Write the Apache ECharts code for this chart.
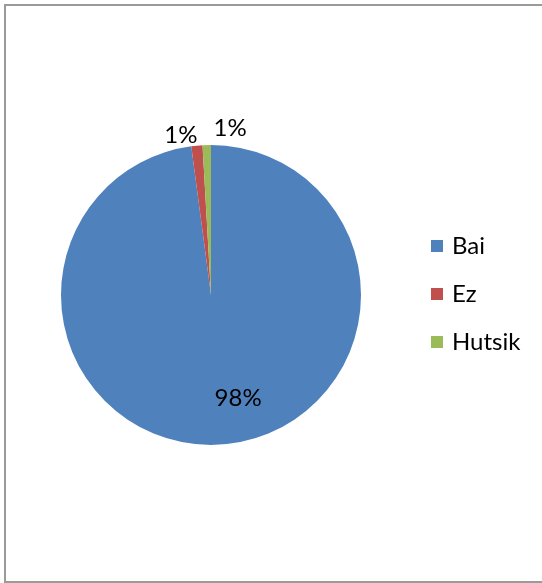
<!DOCTYPE html>
<html><head><meta charset="utf-8">
<script src="https://cdn.jsdelivr.net/npm/echarts@6/dist/echarts.min.js"></script>
<style>html,body{margin:0;padding:0;background:#fff}#c{width:542px;height:583px}</style>
</head><body><div id="c"></div>
<script>
const categories = ['Bai', 'Ez', 'Hutsik'];
const values = [97.9, 1.2, 0.9];
const colors = ['#4F81BD', '#C0504D', '#9BBB59'];

const chart = echarts.init(document.getElementById('c'), null, {renderer: 'canvas'});
const labelPos = [
  {position: 'inside', offset: [22, 25]},
  {position: 'outside', offset: [6, -6]},
  {position: 'outside', offset: [45, -13]}
];
const data = categories.map((n, i) => ({
  name: n, value: values[i],
  itemStyle: {color: colors[i]},
  label: labelPos[i]
}));
chart.setOption({
  animation: false,
  graphic: [{
    type: 'rect', shape: {x: 5, y: 5, width: 560, height: 577},
    style: {fill: 'none', stroke: '#9a9a9a', lineWidth: 2}
  }],
  legend: {
    orient: 'vertical', left: 426, top: 229,
    itemWidth: 12, itemHeight: 12, itemGap: 24, icon: 'rect',
    textStyle: {fontFamily: 'Lato', fontSize: 24, color: '#000', padding: [0, 0, 0, 4]},
    data: categories
  },
  series: [{
    type: 'pie', center: [211, 295], radius: 150, startAngle: 90, clockwise: true,
    avoidLabelOverlap: false,
    labelLayout: {hideOverlap: false},
    labelLine: {show: false, length: 4, length2: 0},
    label: {
      fontFamily: 'Lato', fontSize: 24, color: '#000',
      formatter: p => Math.round(p.percent) + '%'
    },
    emphasis: {disabled: true},
    itemStyle: {borderWidth: 0},
    data: data
  }]
});
</script></body></html>
